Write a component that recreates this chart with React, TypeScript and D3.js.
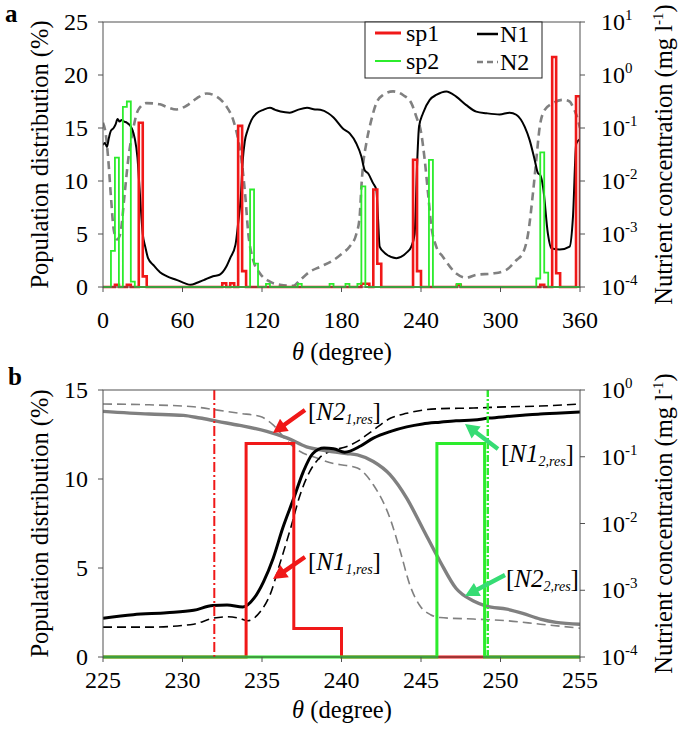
import React from 'react';
import * as d3 from 'd3';

const W = 686, H = 743;
const FONT = 'Liberation Serif';
const RED = '#f01818';
const GREEN = '#2cec2c';
const ARROW_GREEN = '#36dc74';
const GRAY = '#808080';
const AXIS = '#505050';

// ---------- Panel a data ----------
const binWidth = 3;
const sp1BinStartA = [9, 18, 27, 30, 90, 96, 102, 105, 195, 198, 204, 207, 234, 237, 267, 330, 339, 342, 357];
const sp1PctA = [0.2, 0.2, 15.5, 1.0, 0.35, 0.35, 15.2, 1.5, 0.3, 0.3, 9.2, 2.2, 12.0, 1.5, 0.2, 0.2, 21.7, 1.3, 18.0];
const sp2BinStartA = [6, 9, 15, 18, 21, 111, 114, 123, 147, 171, 183, 192, 195, 246, 267, 327, 330, 333];
const sp2PctA = [3.4, 12.2, 17.0, 17.5, 0.5, 9.2, 2.2, 0.3, 0.3, 0.3, 0.3, 0.3, 9.5, 12.0, 0.3, 0.8, 12.7, 1.35];

const n1ThetaA = [0, 1.5, 3, 4.5, 6, 8, 9.5, 11, 12.5, 14, 16, 18, 20, 22, 24, 26, 28, 30, 32, 34, 38, 43, 48, 56, 62, 66, 71, 76, 83, 88, 93, 96, 100, 102, 104, 105.5, 107, 109, 112, 116, 121, 126, 130, 134, 141, 147, 154, 160, 164, 170, 174, 181, 186.2, 191.2, 195, 197.5, 200, 203.8, 206.3, 207.5, 208.8, 212.6, 221.4, 228.9, 232.7, 235.2, 237, 238.5, 241.5, 246.6, 251.5, 259.1, 266.6, 274.2, 281.7, 289.3, 299.4, 306.9, 311.9, 318.3, 322, 325.8, 328.3, 330, 332.1, 335.8, 338.3, 344.7, 352.2, 354.7, 357.2, 360];
const n1ConcA = [0.048, 0.052, 0.044, 0.066, 0.089, 0.10, 0.117, 0.148, 0.132, 0.141, 0.132, 0.126, 0.115, 0.095, 0.063, 0.028, 0.005, 0.001, 5.6e-4, 3.5e-4, 2.6e-4, 1.9e-4, 1.6e-4, 1.35e-4, 1.17e-4, 1.1e-4, 1.2e-4, 1.35e-4, 1.6e-4, 1.7e-4, 2.4e-4, 3.5e-4, 6.3e-4, 1.6e-3, 5.0e-3, 0.025, 0.056, 0.089, 0.141, 0.19, 0.22, 0.24, 0.22, 0.204, 0.195, 0.22, 0.24, 0.224, 0.22, 0.19, 0.158, 0.098, 0.079, 0.051, 0.029, 0.016, 0.014, 0.0091, 0.0068, 0.0021, 5.8e-4, 4.4e-4, 3.5e-4, 4.4e-4, 5.8e-4, 1.0e-3, 0.019, 0.105, 0.19, 0.34, 0.42, 0.49, 0.39, 0.27, 0.204, 0.19, 0.18, 0.195, 0.178, 0.105, 0.059, 0.025, 0.014, 0.013, 0.0078, 1.0e-3, 5.4e-4, 5.1e-4, 5.8e-4, 0.0021, 0.051, 0.062];

const n2ThetaA = [0, 2, 4, 6, 8, 10.5, 13, 16.5, 19, 22.9, 26.6, 32.9, 43, 48, 55.6, 63, 70.7, 78.3, 85.8, 93.4, 98.3, 102.1, 105, 107.2, 109.7, 113.4, 118.5, 126, 133.6, 143.6, 148.7, 156.2, 163.8, 173.8, 181.1, 186.2, 191.2, 193.7, 195, 196.2, 198.7, 202.5, 206.3, 211.3, 218.9, 226.4, 232.7, 236.5, 240.2, 242.8, 245.3, 247.8, 251.5, 256.6, 266.6, 274.2, 281.7, 294.3, 304.4, 311.9, 317, 320.8, 324.5, 327, 329.6, 333.4, 339.6, 347.2, 352.2, 354.7, 357.2, 360];
const n2ConcA = [0.126, 0.079, 0.025, 0.005, 0.00126, 7.9e-4, 1.0e-3, 0.0063, 0.025, 0.1, 0.22, 0.295, 0.28, 0.25, 0.224, 0.263, 0.363, 0.447, 0.39, 0.25, 0.141, 0.059, 0.02, 0.0059, 0.001, 3.2e-4, 1.8e-4, 1.26e-4, 1.1e-4, 1.05e-4, 1.35e-4, 1.95e-4, 2.4e-4, 3.2e-4, 4.4e-4, 5.8e-4, 1.0e-3, 0.0021, 0.0078, 0.019, 0.051, 0.141, 0.295, 0.42, 0.49, 0.42, 0.295, 0.162, 0.079, 0.025, 0.0059, 0.0014, 5.8e-4, 3.7e-4, 1.8e-4, 1.5e-4, 1.7e-4, 1.8e-4, 2.1e-4, 3.2e-4, 4.4e-4, 1.0e-3, 0.0059, 0.025, 0.105, 0.22, 0.295, 0.34, 0.316, 0.25, 0.178, 0.1];

// ---------- Panel b data ----------
const sp1BinStartB = [234, 237];
const sp1PctB = [12.0, 1.6];
const sp2BinStartB = [246];
const sp2PctB = [12.0];
const thetaRes1 = 232;
const thetaRes2 = 249.2;

const n1ThetaB = [225, 226.9, 229, 230.7, 231.9, 232.8, 233.8, 234.5, 235.1, 235.7, 236.3, 237.0, 237.6, 238.2, 238.9, 239.5, 240.2, 241.2, 242, 243.1, 244.1, 245.1, 246.2, 247.2, 248.3, 249.3, 250.4, 251.4, 252.5, 253.5, 255];
const n1ConcB = [3.8e-4, 4.3e-4, 4.6e-4, 5.0e-4, 5.9e-4, 6.0e-4, 5.6e-4, 7.6e-4, 1.35e-3, 3.0e-3, 8.5e-3, 0.024, 0.060, 0.112, 0.135, 0.132, 0.117, 0.145, 0.19, 0.24, 0.28, 0.31, 0.33, 0.347, 0.355, 0.38, 0.40, 0.417, 0.437, 0.447, 0.468];
const n1ResThetaB = [225, 227.9, 230.7, 231.9, 232.8, 233.6, 234.1, 234.9, 235.5, 236.1, 236.8, 237.4, 238.0, 238.6, 239.5, 240.3, 241.0, 242.0, 243.1, 244.1, 245.1, 246.2, 248.3, 250.4, 252.5, 255];
const n1ResConcB = [2.8e-4, 2.8e-4, 3.1e-4, 3.8e-4, 4.0e-4, 3.8e-4, 3.5e-4, 4.8e-4, 8.5e-4, 2.4e-3, 8.5e-3, 0.027, 0.060, 0.095, 0.126, 0.141, 0.17, 0.25, 0.38, 0.447, 0.50, 0.525, 0.537, 0.56, 0.575, 0.617];
const n2ThetaB = [225, 227.9, 230.05, 231.1, 232.2, 233.6, 235.3, 236.6, 237.8, 239.1, 240.3, 241.0, 242.0, 243.05, 244.1, 245.1, 246.2, 247.2, 248.3, 249.1, 250.4, 251.4, 252.5, 253.5, 255];
const n2ConcB = [0.479, 0.437, 0.417, 0.38, 0.339, 0.295, 0.24, 0.19, 0.141, 0.123, 0.112, 0.107, 0.085, 0.054, 0.024, 0.0085, 0.0027, 0.00107, 6.9e-4, 5.8e-4, 5.2e-4, 4.5e-4, 3.7e-4, 3.3e-4, 3.1e-4];
const n2ResThetaB = [225, 227.9, 230.7, 232.2, 233.6, 234.9, 235.7, 236.6, 237.4, 238.5, 239.5, 240.3, 241.0, 242.0, 243.05, 243.7, 244.3, 244.9, 245.6, 246.2, 248.3, 250.4, 252.5, 255];
const n2ResConcB = [0.617, 0.60, 0.56, 0.50, 0.447, 0.40, 0.30, 0.17, 0.12, 0.095, 0.079, 0.074, 0.068, 0.038, 0.012, 0.0038, 0.0012, 6.0e-4, 4.3e-4, 3.9e-4, 3.7e-4, 3.5e-4, 3.1e-4, 2.7e-4];

// ---------- tick data ----------
const xTicksA = [0, 60, 120, 180, 240, 300, 360];
const yTicksA = [0, 5, 10, 15, 20, 25];
const expTicksA = [-4, -3, -2, -1, 0, 1];
const xTicksB = [225, 230, 235, 240, 245, 250, 255];
const yTicksB = [0, 5, 10, 15];
const expTicksB = [-4, -3, -2, -1, 0];

const legendLabels = ['sp1', 'sp2', 'N1', 'N2'];

// scales
const xA = d3.scaleLinear().domain([0, 360]).range([103, 580]);
const yAL = d3.scaleLinear().domain([0, 25]).range([287, 22]);
const yAR = d3.scaleLog().domain([1e-4, 10]).range([287, 22]);
const xB = d3.scaleLinear().domain([225, 255]).range([103, 580]);
const yBL = d3.scaleLinear().domain([0, 15]).range([657, 390]);
const yBR = d3.scaleLog().domain([1e-4, 1]).range([657, 390]);

function stepPath(starts: number[], vals: number[], x0: number, x1: number, xs: any, ys: any) {
  const m = new Map<number, number>();
  starts.forEach((s, i) => m.set(s, vals[i]));
  const pts: [number, number][] = [[x0, 0]];
  for (let e = x0; e < x1 - 1e-9; e += binWidth) {
    const v = m.get(e) ?? 0;
    pts.push([e, v], [e + binWidth, v]);
  }
  pts.push([x1, 0]);
  return d3.line<[number, number]>().x(d => xs(d[0])).y(d => ys(d[1]))(pts) as string;
}

function linePath(th: number[], c: number[], xs: any, ys: any) {
  return d3.line<number>().x((_, i) => xs(th[i])).y((d) => ys(d)).curve(d3.curveMonotoneX)(c) as string;
}

function arrowPoly(tx: number, ty: number, hx: number, hy: number, sw = 2.2, hl = 14, hw = 7.5) {
  const dx = hx - tx, dy = hy - ty;
  const L = Math.hypot(dx, dy);
  const ux = dx / L, uy = dy / L;
  const nx = -uy, ny = ux;
  const neckX = hx - ux * hl, neckY = hy - uy * hl;
  const p = [
    [tx + nx * sw, ty + ny * sw],
    [neckX + nx * sw, neckY + ny * sw],
    [neckX + nx * hw, neckY + ny * hw],
    [hx, hy],
    [neckX - nx * hw, neckY - ny * hw],
    [neckX - nx * sw, neckY - ny * sw],
    [tx - nx * sw, ty - ny * sw],
  ];
  return p.map(q => q.map(v => v.toFixed(1)).join(',')).join(' ');
}

function Axes({ xs, yl, yr, xTicks, yTicks, exps, tickLabelY }: any) {
  const [x0, x1] = xs.range();
  const [yb, yt] = yl.range();
  return (
    <g>
      <rect x={x0} y={yt} width={x1 - x0} height={yb - yt} fill="none" stroke={AXIS} strokeWidth={1} />
      {xTicks.map((t: number) => (
        <g key={'x' + t}>
          <line x1={xs(t)} x2={xs(t)} y1={yb} y2={yb + 5} stroke={AXIS} />
          <text fontFamily={FONT} x={xs(t)} y={tickLabelY} textAnchor="middle" fontSize={24}>{t}</text>
        </g>
      ))}
      {yTicks.map((t: number) => (
        <g key={'y' + t}>
          <line x1={x0 - 5} x2={x0} y1={yl(t)} y2={yl(t)} stroke={AXIS} />
          <text fontFamily={FONT} x={88} y={yl(t) + 8} textAnchor="end" fontSize={24}>{t}</text>
        </g>
      ))}
      {exps.map((e: number) => (
        <g key={'r' + e}>
          <line x1={x1} x2={x1 + 5} y1={yr(Math.pow(10, e))} y2={yr(Math.pow(10, e))} stroke={AXIS} />
          <text fontFamily={FONT} x={601} y={yr(Math.pow(10, e)) + 8} fontSize={24}>10<tspan dy={-10} fontSize={15}>{e}</tspan></text>
        </g>
      ))}
    </g>
  );
}

function Titles({ cy, xTitleY }: { cy: number; xTitleY: number }) {
  return (
    <g>
      <text fontFamily={FONT} transform={`translate(48,${cy}) rotate(-90)`} textAnchor="middle" fontSize={24.5}>Population distribution (%)</text>
      <text fontFamily={FONT} transform={`translate(672,${cy}) rotate(-90)`} textAnchor="middle" fontSize={24.5}>
        Nutrient concentration (mg l<tspan dy={-9} fontSize={15}>-1</tspan><tspan dy={9}>)</tspan>
      </text>
      <text fontFamily={FONT} x={342} y={xTitleY} textAnchor="middle" fontSize={24.5}><tspan fontStyle="italic">θ</tspan> (degree)</text>
    </g>
  );
}

function Label({ x, y, main, sub }: { x: number; y: number; main: string; sub: string }) {
  return (
    <text fontFamily={FONT} x={x} y={y} fontSize={25}>
      [<tspan fontStyle="italic">{main}</tspan>
      <tspan fontStyle="italic" fontSize={14} dy={4}>{sub}</tspan>
      <tspan dy={-4}>]</tspan>
    </text>
  );
}

export default function App() {
  const sp1A = stepPath(sp1BinStartA, sp1PctA, 0, 360, xA, yAL);
  const sp2A = stepPath(sp2BinStartA, sp2PctA, 0, 360, xA, yAL);
  const sp1B = stepPath(sp1BinStartB, sp1PctB, 225, 255, xB, yBL);
  const sp2B = stepPath(sp2BinStartB, sp2PctB, 225, 255, xB, yBL);
  return (
    <div style={{ position: 'absolute', left: 0, top: 0, width: W, height: H }}>
      <svg width={W} height={H}>
        <defs>
          <clipPath id="clipA"><rect x={103} y={22} width={477} height={267} /></clipPath>
          <clipPath id="clipB"><rect x={103} y={390} width={477} height={269} /></clipPath>
        </defs>
        <rect width={W} height={H} fill="#fff" />

        {/* Panel a */}
        <g clipPath="url(#clipA)">
          <path d={linePath(n2ThetaA, n2ConcA, xA, yAR)} fill="none" stroke={GRAY} strokeWidth={2.6} strokeDasharray="8,5" />
          <path d={linePath(n1ThetaA, n1ConcA, xA, yAR)} fill="none" stroke="#000" strokeWidth={2} />
          <path d={sp1A} fill="none" stroke={RED} strokeWidth={2.6} />
          <path d={sp2A} fill="none" stroke={GREEN} strokeWidth={1.8} />
        </g>
        <Axes xs={xA} yl={yAL} yr={yAR} xTicks={xTicksA} yTicks={yTicksA} exps={expTicksA} tickLabelY={328} />
        <Titles cy={154.5} xTitleY={360} />
        <text fontFamily={FONT} x={5} y={22} fontSize={25} fontWeight="bold">a</text>

        {/* legend */}
        <g>
          <rect x={365} y={22} width={177} height={56} fill="#fff" stroke="#222" strokeWidth={1} />
          <line x1={375} x2={401} y1={33} y2={33} stroke={RED} strokeWidth={3} />
          <text fontFamily={FONT} x={406} y={41} fontSize={24}>{legendLabels[0]}</text>
          <line x1={375} x2={401} y1={61} y2={61} stroke={GREEN} strokeWidth={2} />
          <text fontFamily={FONT} x={406} y={69} fontSize={24}>{legendLabels[1]}</text>
          <line x1={477} x2={498} y1={34} y2={34} stroke="#000" strokeWidth={2.5} />
          <text fontFamily={FONT} x={500} y={42} fontSize={24}>{legendLabels[2]}</text>
          <line x1={477} x2={498} y1={62} y2={62} stroke={GRAY} strokeWidth={2.6} strokeDasharray="6,4" />
          <text fontFamily={FONT} x={500} y={70} fontSize={24}>{legendLabels[3]}</text>
        </g>

        {/* Panel b */}
        <g clipPath="url(#clipB)">
          <path d={linePath(n2ResThetaB, n2ResConcB, xB, yBR)} fill="none" stroke={GRAY} strokeWidth={1.6} strokeDasharray="9,5" />
          <path d={linePath(n1ResThetaB, n1ResConcB, xB, yBR)} fill="none" stroke="#000" strokeWidth={1.6} strokeDasharray="9,5" />
          <path d={linePath(n2ThetaB, n2ConcB, xB, yBR)} fill="none" stroke={GRAY} strokeWidth={3.4} />
          <path d={linePath(n1ThetaB, n1ConcB, xB, yBR)} fill="none" stroke="#000" strokeWidth={3} />
          <path d={sp1B} fill="none" stroke={RED} strokeWidth={3} />
          <path d={sp2B} fill="none" stroke={GREEN} strokeWidth={3} />
          <line x1={xB(thetaRes1)} x2={xB(thetaRes1)} y1={390} y2={657} stroke={RED} strokeWidth={2} strokeDasharray="10,3,2,3" />
          <line x1={xB(thetaRes2)} x2={xB(thetaRes2)} y1={390} y2={657} stroke={GREEN} strokeWidth={2.4} strokeDasharray="7,2,2,2" />
        </g>
        <Axes xs={xB} yl={yBL} yr={yBR} xTicks={xTicksB} yTicks={yTicksB} exps={expTicksB} tickLabelY={688} />
        <Titles cy={523.5} xTitleY={718} />
        <text fontFamily={FONT} x={8} y={385} fontSize={25} fontWeight="bold">b</text>

        {/* annotations */}
        <polygon points={arrowPoly(305, 410, 273, 433)} fill={RED} />
        <polygon points={arrowPoly(305, 557, 273, 579)} fill={RED} />
        <polygon points={arrowPoly(498, 449, 465, 424)} fill={ARROW_GREEN} />
        <polygon points={arrowPoly(505, 575, 465, 596)} fill={ARROW_GREEN} />
        <Label x={308} y={420} main="N2" sub="1,res" />
        <Label x={308} y={570} main="N1" sub="1,res" />
        <Label x={501} y={462} main="N1" sub="2,res" />
        <Label x={506} y={587} main="N2" sub="2,res" />
      </svg>
    </div>
  );
}
